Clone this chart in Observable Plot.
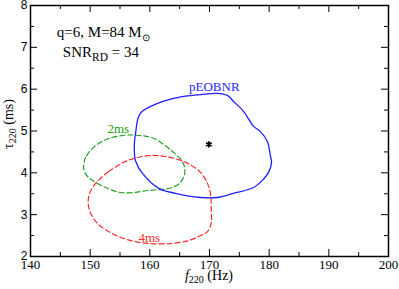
<!DOCTYPE html>
<html><head><meta charset="utf-8">
<script src="https://cdn.jsdelivr.net/npm/d3@7"></script>
<script src="https://cdn.jsdelivr.net/npm/@observablehq/plot@0.6"></script>
<style>body{margin:0;background:#fff}</style>
</head><body><div id="chart"></div>
<script>
// pEOBNR contour (f220 in Hz, tau220 in ms)
const pEOBNR_f   = [157.6,158.4,161.3,164.6,168.5,171.3,173.0,174.0,175.7,177.4,178.5,179.7,180.2,180.4,179.9,179.0,177.4,174.0,171.3,168.5,164.3,161.5,158.8,157.6,157.4];
const pEOBNR_tau = [4.94, 5.42, 5.66, 5.80, 5.87, 5.90, 5.85, 5.71, 5.47, 5.11, 4.99, 4.75, 4.41, 4.25, 4.01, 3.84, 3.65, 3.51, 3.41, 3.41, 3.51, 3.63, 3.98, 4.29, 4.65];
// 2ms contour
const ms2_f   = [148.9,149.4,150.9,153.1,155.9,157.6,160.4,162.3,163.8,165.1,165.8,165.8,165.1,163.8,161.8,159.8,157.3,155.1,152.6,150.4,149.2];
const ms2_tau = [4.18, 4.41, 4.65, 4.82, 4.90, 4.90, 4.84, 4.68, 4.51, 4.34, 4.15, 3.96, 3.77, 3.65, 3.60, 3.58, 3.53, 3.53, 3.65, 3.82, 3.98];
// 4ms contour
const ms4_f   = [151.7,153.1,156.4,159.8,162.6,166.0,168.5,169.8,170.2,170.3,170.3,169.7,168.5,166.5,163.5,160.1,156.8,153.4,151.1,149.9,149.7,150.4];
const ms4_tau = [3.86, 4.03, 4.30, 4.41, 4.39, 4.25, 4.01, 3.70, 3.46, 3.10, 2.81, 2.60, 2.50, 2.38, 2.31, 2.31, 2.38, 2.57, 2.81, 3.10, 3.39, 3.65];
// injected value
const star_f = [169.9];
const star_tau = [4.68];
// labels
const curveLabels = ["pEOBNR", "2ms", "4ms"];
const curveLabel_f = [170.8, 154.7, 159.9];
const curveLabel_tau = [6.05, 5.05, 2.44];
const curveColors = ["#1f1fff", "#20a020", "#ff2a2a"];
// ticks
const xMajor = [140,150,160,170,180,190,200];
const xMinor = [145,155,165,175,185,195];
const yMajor = [2,3,4,5,6,7,8];
const yMinor = [2.5,3.5,4.5,5.5,6.5,7.5];

const toRows = (f, t) => f.map((v, i) => ({f: v, tau: t[i]}));
const blue = toRows(pEOBNR_f, pEOBNR_tau);
const green = toRows(ms2_f, ms2_tau);
const red = toRows(ms4_f, ms4_tau);
const star = toRows(star_f, star_tau);
const labels = curveLabels.map((s, i) => ({s, f: curveLabel_f[i], tau: curveLabel_tau[i], c: curveColors[i]}));

const W = 399, H = 289, mL = 30, mR = 11, mT = 5, mB = 33;
const ph = H - mT - mB, pw = W - mL - mR;

const plot = Plot.plot({
  width: W, height: H,
  marginLeft: mL, marginRight: mR, marginTop: mT, marginBottom: mB,
  x: {domain: [140, 200]},
  y: {domain: [2, 8]},
  style: {background: "white", fontFamily: "Liberation Serif", overflow: "visible"},
  marks: [
    Plot.line(red, {x: "f", y: "tau", curve: "catmull-rom-closed", stroke: curveColors[2], strokeWidth: 1.2, strokeDasharray: "5,3"}),
    Plot.line(green, {x: "f", y: "tau", curve: "catmull-rom-closed", stroke: curveColors[1], strokeWidth: 1.2, strokeDasharray: "5,3"}),
    Plot.line(blue, {x: "f", y: "tau", curve: "catmull-rom-closed", stroke: curveColors[0], strokeWidth: 1.3}),
    Plot.dot(star, {x: "f", y: "tau", symbol: "asterisk", r: 3, stroke: "black", strokeWidth: 1.8}),
    Plot.text(labels, {x: "f", y: "tau", text: "s", fill: "c", fontSize: 13, fontFamily: "Liberation Serif", textAnchor: "middle"}),
    Plot.tickX(xMajor, {x: d => d, insetTop: ph - 7, stroke: "black"}),
    Plot.tickX(xMajor, {x: d => d, insetBottom: ph - 7, stroke: "black"}),
    Plot.tickX(xMinor, {x: d => d, insetTop: ph - 4, stroke: "black"}),
    Plot.tickX(xMinor, {x: d => d, insetBottom: ph - 4, stroke: "black"}),
    Plot.tickY(yMajor, {y: d => d, insetRight: pw - 7, stroke: "black"}),
    Plot.tickY(yMajor, {y: d => d, insetLeft: pw - 7, stroke: "black"}),
    Plot.tickY(yMinor, {y: d => d, insetRight: pw - 4, stroke: "black"}),
    Plot.tickY(yMinor, {y: d => d, insetLeft: pw - 4, stroke: "black"}),
    Plot.axisX(xMajor, {tickSize: 0, tickPadding: 3, fontSize: 13, fontFamily: "Liberation Serif", label: null, fill: "black"}),
    Plot.axisY(yMajor, {tickSize: 0, tickPadding: 3, fontSize: 12, fontFamily: "Liberation Sans", label: null, fill: "black"}),
    Plot.frame({stroke: "black", strokeWidth: 1.5})
  ]
});
document.getElementById("chart").appendChild(plot);

const sxs = plot.scale("x"), sys = plot.scale("y");
const sx = d3.scaleLinear(sxs.domain, sxs.range);
const sy = d3.scaleLinear(sys.domain, sys.range);
const svg = d3.select(plot);
const serif = "Liberation Serif";

// annotation line 1
const t1 = svg.append("text").attr("x", sx(144.5)).attr("y", sy(7.24)).attr("text-anchor", "start")
  .attr("font-family", serif).attr("font-size", 15).attr("fill", "black");
t1.append("tspan").text("q=6, M=84 M");
t1.append("tspan").attr("font-size", 10).attr("dy", 4).text("\u2299");

// annotation line 2
const t2 = svg.append("text").attr("x", sx(145.5)).attr("y", sy(6.76)).attr("text-anchor", "start")
  .attr("font-family", serif).attr("font-size", 15).attr("fill", "black");
t2.append("tspan").text("SNR");
t2.append("tspan").attr("font-size", 11.5).attr("dy", 4).text("RD");
t2.append("tspan").attr("dy", -4).text(" = 34");

// y label
const yl = svg.append("text").attr("transform", `translate(13,124) rotate(-90)`)
  .attr("text-anchor", "middle").attr("font-family", serif).attr("font-size", 14).attr("fill", "black");
yl.append("tspan").text("\u03c4");
yl.append("tspan").attr("font-size", 10).attr("dy", 3).text("220");
yl.append("tspan").attr("dy", -3).text(" (ms)");

// x label
const xl = svg.append("text").attr("x", 209).attr("y", 280)
  .attr("text-anchor", "middle").attr("font-family", serif).attr("font-size", 14).attr("fill", "black");
xl.append("tspan").attr("font-style", "italic").text("f");
xl.append("tspan").attr("font-size", 10).attr("dy", 3).text("220");
xl.append("tspan").attr("dy", -3).text(" (Hz)");
</script>
</body></html>
